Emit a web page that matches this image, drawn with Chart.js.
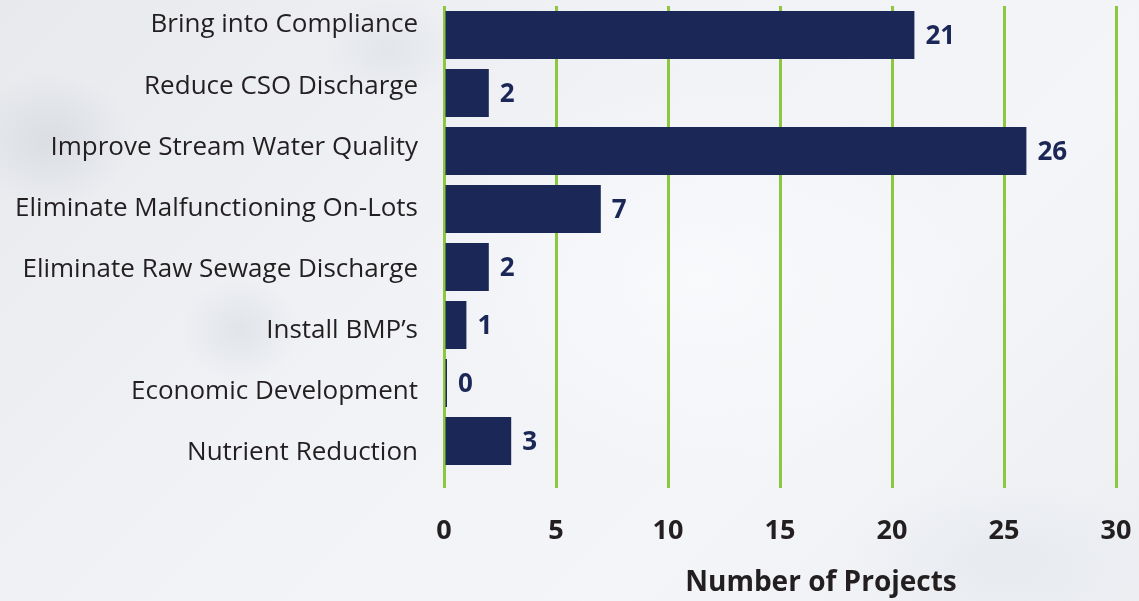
<!DOCTYPE html>
<html>
<head>
<meta charset="utf-8">
<script src="https://cdn.jsdelivr.net/npm/chart.js@4"></script>
<style>
  html, body { margin: 0; padding: 0; }
  body {
    width: 1139px; height: 601px; overflow: hidden; position: relative;
    background:
      radial-gradient(ellipse 110px 90px at 50px 140px, rgba(200,204,210,0.45), rgba(200,204,210,0) 75%),
      radial-gradient(ellipse 80px 70px at 240px 330px, rgba(205,209,215,0.4), rgba(205,209,215,0) 75%),
      radial-gradient(ellipse 90px 70px at 390px 50px, rgba(208,212,218,0.35), rgba(208,212,218,0) 75%),
      radial-gradient(ellipse 200px 110px at 1000px 560px, rgba(222,226,233,0.45), rgba(222,226,233,0) 75%),
      radial-gradient(ellipse 380px 260px at 700px 280px, rgba(249,250,252,0.9), rgba(249,250,252,0) 75%),
      linear-gradient(135deg, #e7e9ed 0%, #f0f2f6 40%, #f3f5f8 70%, #eceef2 100%);
  }
  #wrap { position: absolute; left: 0; top: 0; width: 1139px; height: 601px; }
  #x-title {
    position: absolute; left: 821px; top: 561px; transform: translateX(-50%);
    font: bold 28px "Open Sans", sans-serif; color: #231f20; white-space: nowrap;
  }
</style>
</head>
<body>
<div id="wrap"><canvas id="chart" width="1139" height="601"></canvas></div>
<div id="x-title">Number of Projects</div>
<script>
// chart data
const categories = [
    "Bring into Compliance",
    "Reduce CSO Discharge",
    "Improve Stream Water Quality",
    "Eliminate Malfunctioning On-Lots",
    "Eliminate Raw Sewage Discharge",
    "Install BMP\u2019s",
    "Economic Development",
    "Nutrient Reduction"
];
const projectCounts = [21, 2, 26, 7, 2, 1, 0, 3];
const xTickValues = [0, 5, 10, 15, 20, 25, 30];

const barColor = "#1b2857";
const gridGreen = "#8dc63f";
const textColor = "#231f20";

// value labels to the right of each bar
const valueLabels = {
    id: "valueLabels",
    afterDatasetsDraw(chart) {
        const ctx = chart.ctx;
        const meta = chart.getDatasetMeta(0);
        ctx.save();
        ctx.font = "bold 26px 'Open Sans', sans-serif";
        ctx.fillStyle = barColor;
        ctx.textAlign = "left";
        ctx.textBaseline = "middle";
        meta.data.forEach((bar, i) => {
            ctx.fillText(String(projectCounts[i]), bar.x + 11, bar.y + 2);
        });
        ctx.restore();
    }
};

new Chart(document.getElementById("chart"), {
    type: "bar",
    data: {
        labels: categories,
        datasets: [{
            data: projectCounts,
            backgroundColor: barColor,
            borderWidth: 0,
            categoryPercentage: 1,
            barPercentage: 0.83,
            minBarLength: 3
        }]
    },
    options: {
        indexAxis: "y",
        responsive: false,
        animation: false,
        layout: { padding: { top: 6, right: 23, bottom: 0, left: 0 } },
        plugins: {
            legend: { display: false },
            tooltip: { enabled: false }
        },
        scales: {
            x: {
                min: 0,
                max: 30,
                position: "bottom",
                afterBuildTicks: (scale) => { scale.ticks = xTickValues.map(v => ({ value: v })); },
                afterFit: (scale) => {
                    scale.height = 131;
                    scale.paddingLeft = 0;
                    scale.paddingRight = 0;
                },
                grid: { color: gridGreen, lineWidth: 3, tickLength: 18, drawTicks: true },
                border: { display: false },
                ticks: {
                    color: textColor,
                    padding: 27,
                    maxRotation: 0,
                    font: { family: "Open Sans", size: 27, weight: "bold" }
                }
            },
            y: {
                display: false
            },
            // separate axis for the category names (they sit on a slightly wider spacing than the bars)
            yl: {
                type: "linear",
                position: "left",
                reverse: true,
                offset: false,
                min: -0.311,
                max: 7.278,
                afterBuildTicks: (scale) => { scale.ticks = categories.map((_, i) => ({ value: i })); },
                afterFit: (scale) => {
                    scale.width = 444;
                    scale.paddingTop = 0;
                    scale.paddingBottom = 0;
                },
                grid: { display: false, drawTicks: false, offset: false },
                border: { display: false },
                ticks: {
                    color: textColor,
                    padding: 26,
                    callback: (v) => categories[v] || "",
                    font: { family: "Open Sans", size: 26 }
                }
            }
        }
    },
    plugins: [valueLabels]
});
</script>
</body>
</html>
